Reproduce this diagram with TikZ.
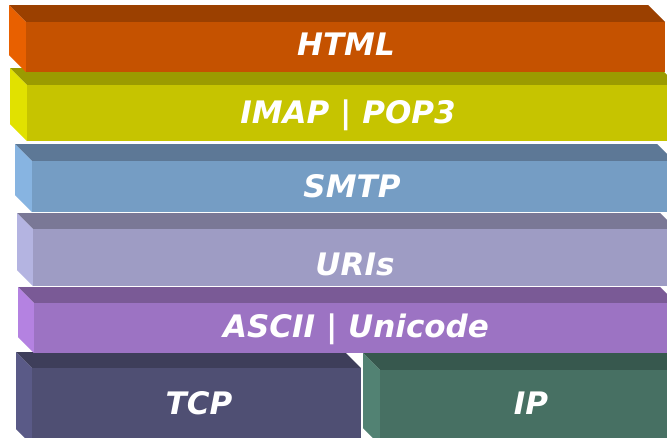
\documentclass[tikz,border=0pt]{standalone}
\usepackage{fontspec}
\usepackage{tikz}
\newfontfamily\layerfont{DejaVu Sans}

\definecolor{htmlFront}{RGB}{197,82,0}
\definecolor{htmlTop}{RGB}{155,64,0}
\definecolor{htmlSide}{RGB}{232,96,0}
\definecolor{imapFront}{RGB}{198,196,0}
\definecolor{imapTop}{RGB}{155,155,0}
\definecolor{imapSide}{RGB}{225,225,0}
\definecolor{smtpFront}{RGB}{117,157,196}
\definecolor{smtpTop}{RGB}{93,120,150}
\definecolor{smtpSide}{RGB}{135,180,225}
\definecolor{uriFront}{RGB}{158,156,196}
\definecolor{uriTop}{RGB}{122,120,150}
\definecolor{uriSide}{RGB}{180,180,225}
\definecolor{asciiFront}{RGB}{156,115,195}
\definecolor{asciiTop}{RGB}{122,90,150}
\definecolor{asciiSide}{RGB}{180,130,225}
\definecolor{tcpFront}{RGB}{79,79,115}
\definecolor{tcpTop}{RGB}{62,62,90}
\definecolor{tcpSide}{RGB}{90,90,135}
\definecolor{ipFront}{RGB}{71,112,99}
\definecolor{ipTop}{RGB}{55,88,78}
\definecolor{ipSide}{RGB}{82,130,115}

\tikzstyle{layerText} = [text = white, anchor = base, inner sep = 0pt, font = \layerfont\bfseries\itshape\fontsize{31}{31}\selectfont]

% #1 left, #2 top, #3 depth, #4 right, #5 bottom, #6 colour prefix
\newcommand{\layerBox}[6]{
    \fill [#6Top] (#1,#2) -- (#4,#2) -- (#4+#3,#2+#3) -- (#1+#3,#2+#3) -- cycle;
    \fill [#6Side] (#1,#2) -- (#1+#3,#2+#3) -- (#1+#3,#5) -- (#1,#5-#3) -- cycle;
    \fill [#6Front] (#1+#3,#2+#3) rectangle (#4+#3,#5);
}

\begin{document}
\begin{tikzpicture}[x = 1pt, y = -1pt]
    \useasboundingbox [fill = white] (0,0) rectangle (667,437);

    \layerBox{16}{352}{16}{345}{445}{tcp}
    \layerBox{363}{353}{17}{670}{445}{ip}
    \layerBox{18}{287}{16}{660}{353}{ascii}
    \layerBox{17}{213}{16}{660}{286}{uri}
    \layerBox{15}{144}{17}{657}{212}{smtp}
    \layerBox{10}{68}{17}{660}{141}{imap}
    \layerBox{9}{5}{17}{648}{72}{html}

    \node (html) at (346,55) [layerText] {HTML};
    \node (imap) at (348,123) [layerText] {IMAP | POP3};
    \node (smtp) at (352,197) [layerText] {SMTP};
    \node (uris) at (355,275) [layerText] {URIs};
    \node (ascii) at (356,337) [layerText] {ASCII | Unicode};
    \node (tcp) at (199,414) [layerText] {TCP};
    \node (ip) at (531,414) [layerText] {IP};
\end{tikzpicture}
\end{document}
